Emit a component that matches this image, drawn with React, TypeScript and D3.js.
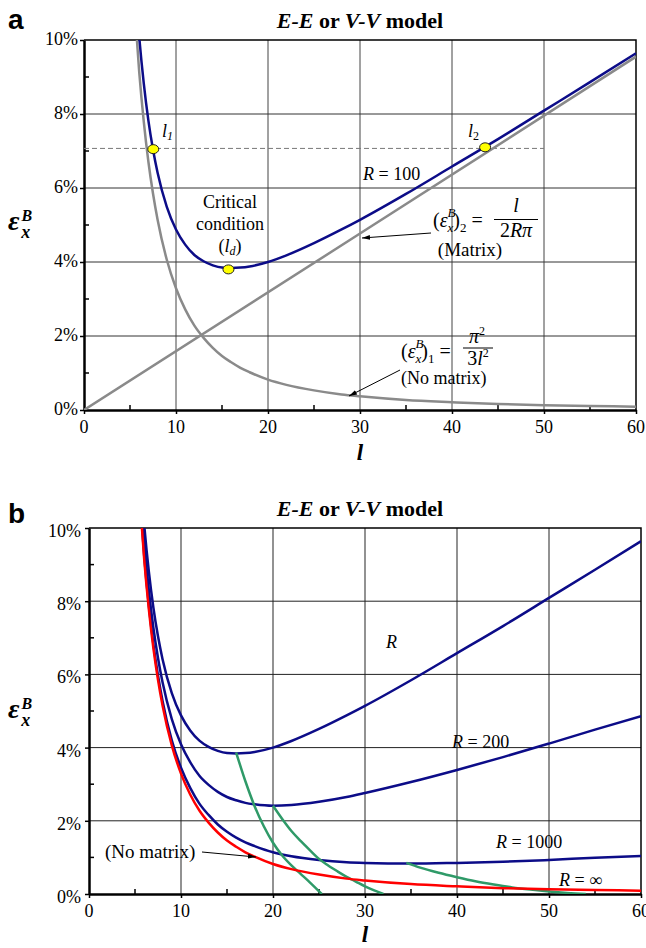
import React, { useEffect, useRef } from 'react';
import * as d3 from 'd3';

// lengths l shared by the analytical curves (both panels)
const lengths = [5.5, 6, 6.5, 7, 7.5, 8, 9, 10, 11, 12, 13, 14, 15, 16, 17, 18, 20, 22, 25, 28, 30, 35, 40, 45, 50, 55, 60];

// strain in %
const noMatrixStrain = [10.88, 9.14, 7.79, 6.71, 5.85, 5.14, 4.06, 3.29, 2.72, 2.28, 1.95, 1.68, 1.46, 1.29, 1.14, 1.02, 0.82, 0.68, 0.53, 0.42, 0.37, 0.27, 0.21, 0.16, 0.13, 0.11, 0.09];
const strainR100 = [11.76, 10.09, 8.82, 7.82, 7.04, 6.41, 5.49, 4.88, 4.47, 4.19, 4.02, 3.91, 3.85, 3.84, 3.85, 3.88, 4.0, 4.18, 4.51, 4.88, 5.14, 5.84, 6.58, 7.32, 8.09, 8.86, 9.64];
const strainR200 = [11.32, 9.62, 8.31, 7.27, 6.45, 5.78, 4.78, 4.09, 3.6, 3.23, 2.98, 2.79, 2.65, 2.56, 2.49, 2.45, 2.41, 2.43, 2.52, 2.65, 2.76, 3.06, 3.39, 3.74, 4.11, 4.49, 4.86];
const strainR1000 = [10.97, 9.24, 7.89, 6.82, 5.97, 5.27, 4.2, 3.45, 2.9, 2.47, 2.16, 1.9, 1.7, 1.54, 1.41, 1.31, 1.14, 1.03, 0.93, 0.87, 0.85, 0.83, 0.85, 0.88, 0.93, 0.99, 1.04];

// matrix-only line (R = 100)
const matrixLengths = [0, 30, 60];
const matrixStrain = [0, 4.77, 9.55];

// marked points in panel a: l1, ld, l2
const pointLengths = [7.53, 15.7, 43.6];
const pointStrains = [7.05, 3.8, 7.1];
const dashedLengths = [0, 50];
const dashedStrains = [7.07, 7.07];

// green curves in panel b
const greenALengths = [16, 17, 18, 19, 20, 21, 22, 23, 24, 25.3];
const greenAStrains = [3.86, 3.08, 2.4, 1.85, 1.4, 1.05, 0.78, 0.55, 0.32, 0];
const greenBLengths = [20, 21, 22, 23, 24, 25, 26, 27, 28, 29, 30, 31, 32];
const greenBStrains = [2.41, 2.05, 1.72, 1.45, 1.2, 0.96, 0.78, 0.62, 0.47, 0.34, 0.21, 0.1, 0];
const greenCLengths = [34.5, 36, 38, 40, 42, 44, 46, 48, 50, 52, 54];
const greenCStrains = [0.85, 0.72, 0.58, 0.46, 0.35, 0.26, 0.18, 0.12, 0.07, 0.03, 0];

const xTicks = [0, 10, 20, 30, 40, 50, 60];
const xMinorTicks = [5, 15, 25, 35, 45, 55];
const yTicks = [0, 2, 4, 6, 8, 10];
const yMinorTicks = [1, 3, 5, 7, 9];

const serif = "'Liberation Serif', 'Times New Roman', serif";
const sans = "'Liberation Sans', Arial, sans-serif";
const navy = '#0c0c88';
const gray = '#8a8a8a';
const green = '#2f9a68';

const addText = (g, x, y, str, o: any = {}) =>
  g.append('text')
    .attr('x', x)
    .attr('y', y)
    .attr('font-family', o.family || serif)
    .attr('font-size', o.size || 18)
    .attr('font-style', o.italic ? 'italic' : 'normal')
    .attr('font-weight', o.bold ? 'bold' : 'normal')
    .attr('text-anchor', o.anchor || 'start')
    .attr('fill', '#000')
    .text(str);

// appends a tspan; o = { italic, size, dx, dy }
const span = (t, str, o: any = {}) =>
  t.append('tspan')
    .attr('font-style', o.italic ? 'italic' : 'normal')
    .attr('font-size', o.size || null)
    .attr('dx', o.dx || null)
    .attr('dy', o.dy || null)
    .text(str);

const drawFrame = (svg, box, id, opts) => {
  const x = d3.scaleLinear().domain([0, 60]).range([box.left, box.right]);
  const y = d3.scaleLinear().domain([0, 10]).range([box.bottom, box.top]);
  const g = svg.append('g');

  svg.select('defs').append('clipPath').attr('id', id)
    .append('rect')
    .attr('x', box.left).attr('y', box.top)
    .attr('width', box.right - box.left).attr('height', box.bottom - box.top);

  // grid
  g.selectAll('.vgrid').data(xTicks.slice(1, -1)).enter().append('line')
    .attr('x1', d => x(d)).attr('x2', d => x(d))
    .attr('y1', box.top).attr('y2', box.bottom)
    .attr('stroke', opts.vGrid).attr('stroke-width', opts.vGridWidth);
  g.selectAll('.hgrid').data(yTicks.slice(1, -1)).enter().append('line')
    .attr('x1', box.left).attr('x2', box.right)
    .attr('y1', d => y(d)).attr('y2', d => y(d))
    .attr('stroke', opts.hGrid).attr('stroke-width', 1);

  // top / right border
  g.append('path')
    .attr('d', `M${box.left},${box.top}H${box.right}V${box.bottom}`)
    .attr('fill', 'none').attr('stroke', '#000').attr('stroke-width', 1.5);

  // minor ticks pointing inward
  g.selectAll('.xminor').data(xMinorTicks).enter().append('line')
    .attr('x1', d => x(d)).attr('x2', d => x(d))
    .attr('y1', box.bottom).attr('y2', box.bottom - 5)
    .attr('stroke', '#000').attr('stroke-width', 1.5);
  g.selectAll('.yminor').data(yMinorTicks).enter().append('line')
    .attr('x1', box.left).attr('x2', box.left + 5)
    .attr('y1', d => y(d)).attr('y2', d => y(d))
    .attr('stroke', '#000').attr('stroke-width', 1.5);

  // axis lines and major ticks (labels drawn separately in serif)
  const xAxis = d3.axisBottom(x).tickValues(xTicks).tickSize(4).tickSizeOuter(0).tickFormat(() => '');
  const xg = g.append('g').attr('transform', `translate(0,${box.bottom})`).call(xAxis);
  xg.select('.domain').attr('stroke-width', 2.5);
  xg.selectAll('line').attr('stroke-width', 1.5);
  xg.selectAll('text').remove();

  const yAxis = d3.axisLeft(y).tickValues(yTicks).tickSize(4).tickSizeOuter(0).tickFormat(() => '');
  const yg = g.append('g').attr('transform', `translate(${box.left},0)`).call(yAxis);
  yg.select('.domain').attr('stroke-width', 2.5);
  yg.selectAll('line').attr('stroke-width', 1.5);
  yg.selectAll('text').remove();

  g.selectAll('.xlabel').data(xTicks).enter().append('text')
    .attr('x', d => x(d)).attr('y', box.bottom + 23)
    .attr('text-anchor', 'middle')
    .attr('font-family', serif).attr('font-size', 18).attr('fill', '#000')
    .text(d => d);
  g.selectAll('.ylabel').data(yTicks).enter().append('text')
    .attr('x', box.left - opts.yLabelGap).attr('y', d => y(d) + opts.yLabelDy)
    .attr('text-anchor', 'end')
    .attr('font-family', serif).attr('font-size', 18).attr('fill', '#000')
    .text(d => `${d}%`);

  const plot = svg.append('g').attr('clip-path', `url(#${id})`);
  const line = d3.line().x(d => x(d[0])).y(d => y(d[1])).curve(d3.curveMonotoneX);
  return { x, y, plot, line };
};

const drawCurve = (plot, line, ls, vs, color, width = 2.5, dash = null) =>
  plot.append('path')
    .datum(d3.zip(ls, vs))
    .attr('d', line)
    .attr('fill', 'none')
    .attr('stroke', color)
    .attr('stroke-width', width)
    .attr('stroke-dasharray', dash)
    .attr('stroke-linejoin', 'round');

const drawTitle = (svg, cx, y) => {
  const t = addText(svg, cx, y, '', { size: 22, bold: true, anchor: 'middle' });
  span(t, 'E-E', { italic: true });
  span(t, ' or ');
  span(t, 'V-V', { italic: true });
  span(t, ' model');
};

const drawEpsLabel = (svg, x, y) => {
  const t = addText(svg, x, y, '', { size: 28, italic: true, bold: true });
  span(t, 'ε', { italic: true });
  span(t, 'B', { italic: true, size: 16, dx: 2, dy: -9 });
  span(t, 'x', { italic: true, size: 18, dx: -11, dy: 17 });
};

// (eps_x^B)_n =  as one text line
const drawEpsTerm = (svg, x, y, index) => {
  const t = addText(svg, x, y, '', { size: 20 });
  span(t, '(');
  span(t, 'ε', { italic: true });
  span(t, 'B', { italic: true, size: 13, dy: -10 });
  span(t, 'x', { italic: true, size: 13, dx: -8, dy: 15 });
  span(t, ')', { dy: -5 });
  span(t, index, { size: 13, dy: 5 });
  span(t, ' =', { dy: -5 });
  return t;
};

const arrow = (svg, x1, y1, x2, y2) =>
  svg.append('line')
    .attr('x1', x1).attr('y1', y1).attr('x2', x2).attr('y2', y2)
    .attr('stroke', '#000').attr('stroke-width', 1)
    .attr('marker-end', 'url(#arrowhead)');

const fractionBar = (svg, x1, x2, y) =>
  svg.append('line').attr('x1', x1).attr('x2', x2).attr('y1', y).attr('y2', y)
    .attr('stroke', '#000').attr('stroke-width', 1);

const App = () => {
  const svgRef = useRef(null);

  useEffect(() => {
    const svg = d3.select(svgRef.current);
    svg.selectAll('*').remove();

    const defs = svg.append('defs');
    defs.append('marker')
      .attr('id', 'arrowhead')
      .attr('viewBox', '0 0 10 10')
      .attr('refX', 10).attr('refY', 5)
      .attr('markerWidth', 8).attr('markerHeight', 8)
      .attr('orient', 'auto')
      .append('path').attr('d', 'M0,2L10,5L0,8Z').attr('fill', '#000');

    // ---------- panel a ----------
    const a = drawFrame(svg, { left: 84, right: 636, top: 40, bottom: 410 }, 'clip-a',
      { vGrid: '#444', vGridWidth: 1, hGrid: '#333', yLabelGap: 6, yLabelDy: 5 });

    drawCurve(a.plot, a.line, dashedLengths, dashedStrains, '#777', 1, '5,3');
    drawCurve(a.plot, a.line, lengths, noMatrixStrain, gray, 2.5);
    drawCurve(a.plot, a.line, matrixLengths, matrixStrain, gray, 2.5);
    drawCurve(a.plot, a.line, lengths, strainR100, navy, 2.5);

    svg.append('g').selectAll('ellipse')
      .data(d3.zip(pointLengths, pointStrains))
      .enter().append('ellipse')
      .attr('cx', d => a.x(d[0])).attr('cy', d => a.y(d[1]))
      .attr('rx', 5.5).attr('ry', 4.5)
      .attr('fill', '#ffff00').attr('stroke', '#222').attr('stroke-width', 1);

    addText(svg, 8, 29, 'a', { family: sans, size: 28, bold: true });
    drawTitle(svg, 360, 28);
    drawEpsLabel(svg, 8, 230);
    addText(svg, 360, 460, 'l', { size: 23, italic: true, bold: true, anchor: 'middle' });

    // point labels
    const l1 = addText(svg, 162, 137, 'l', { size: 18, italic: true });
    span(l1, '1', { italic: true, size: 12, dy: 3 });
    const l2 = addText(svg, 468, 137, 'l', { size: 18, italic: true });
    span(l2, '2', { size: 12, dy: 3 });
    addText(svg, 230, 208, 'Critical', { size: 18, anchor: 'middle' });
    addText(svg, 230, 230, 'condition', { size: 18, anchor: 'middle' });
    const ld = addText(svg, 230, 252, '(', { size: 18, anchor: 'middle' });
    span(ld, 'l', { italic: true });
    span(ld, 'd', { italic: true, size: 12, dy: 3 });
    span(ld, ')', { dy: -3 });

    const r100 = addText(svg, 363, 180, 'R', { size: 18, italic: true });
    span(r100, ' = 100');

    // (eps)2 = l / 2R pi
    drawEpsTerm(svg, 433, 227, '2');
    fractionBar(svg, 494, 538, 219.5);
    addText(svg, 516, 212, 'l', { size: 20, italic: true, anchor: 'middle' });
    const den2 = addText(svg, 516, 237, '2', { size: 20, anchor: 'middle' });
    span(den2, 'Rπ', { italic: true });
    addText(svg, 470, 256, '(Matrix)', { size: 19, anchor: 'middle' });
    arrow(svg, 431, 233, 362, 238);

    // (eps)1 = pi^2 / 3 l^2
    drawEpsTerm(svg, 401, 358, '1');
    fractionBar(svg, 463, 493, 348);
    const num1 = addText(svg, 477, 343, 'π', { size: 20, italic: true, anchor: 'middle' });
    span(num1, '2', { size: 12, dy: -8 });
    const den1 = addText(svg, 478, 365, '3', { size: 20, anchor: 'middle' });
    span(den1, 'l', { italic: true });
    span(den1, '2', { size: 12, dy: -8 });
    addText(svg, 401, 384, '(No matrix)', { size: 18 });
    arrow(svg, 400, 370, 349, 396);

    // ---------- panel b ----------
    const b = drawFrame(svg, { left: 89, right: 641, top: 528, bottom: 894 }, 'clip-b',
      { vGrid: '#777', vGridWidth: 1.6, hGrid: '#222', yLabelGap: 8, yLabelDy: 9 });

    drawCurve(b.plot, b.line, lengths, strainR100, navy, 2.5);
    drawCurve(b.plot, b.line, lengths, strainR200, navy, 2.5);
    drawCurve(b.plot, b.line, lengths, strainR1000, navy, 2.5);
    drawCurve(b.plot, b.line, greenALengths, greenAStrains, green, 2.5);
    drawCurve(b.plot, b.line, greenBLengths, greenBStrains, green, 2.5);
    drawCurve(b.plot, b.line, greenCLengths, greenCStrains, green, 2.5);
    drawCurve(b.plot, b.line, lengths, noMatrixStrain, '#ff0000', 2.5);

    addText(svg, 8, 523, 'b', { family: sans, size: 28, bold: true });
    drawTitle(svg, 360, 516);
    drawEpsLabel(svg, 8, 718);
    addText(svg, 365, 942, 'l', { size: 23, italic: true, bold: true, anchor: 'middle' });

    addText(svg, 386, 648, 'R', { size: 18, italic: true });
    const r200 = addText(svg, 452, 748, 'R', { size: 18, italic: true });
    span(r200, ' = 200');
    const r1000 = addText(svg, 496, 848, 'R', { size: 18, italic: true });
    span(r1000, ' = 1000');
    const rInf = addText(svg, 559, 886, 'R', { size: 18, italic: true });
    span(rInf, ' = ∞');
    addText(svg, 105, 858, '(No matrix)', { size: 19 });
    arrow(svg, 202, 852, 256, 857);
  }, []);

  return (
    <div style={{ position: 'absolute', left: 0, top: 0 }}>
      <svg ref={svgRef} width={646} height={948} style={{ display: 'block', background: '#fff' }}></svg>
    </div>
  );
};

export default App;
